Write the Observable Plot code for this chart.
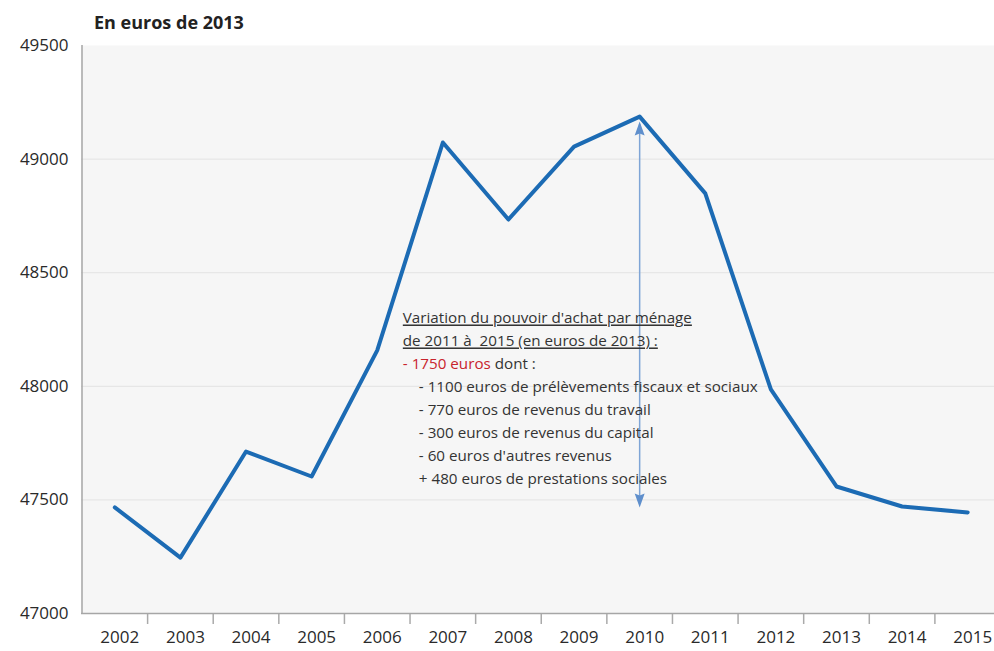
<!DOCTYPE html>
<html><head><meta charset="utf-8">
<script src="https://cdn.jsdelivr.net/npm/d3@7"></script>
<script src="https://cdn.jsdelivr.net/npm/@observablehq/plot@0.6"></script>
<style>
body{margin:0;background:#fff;font-family:"Open Sans",sans-serif;}
#title{height:34px;line-height:44px;padding-left:94px;font-weight:700;font-size:18px;color:#222;}
#chart svg{display:block;overflow:visible;}
</style></head><body>
<div id="title">En euros de 2013</div>
<div id="chart"></div>
<script>
const years = [2002,2003,2004,2005,2006,2007,2008,2009,2010,2011,2012,2013,2014,2015];
const values = [47467,47246,47713,47603,48158,49073,48734,49055,49187,48849,47986,47559,47471,47445];
const yTicks = [47000,47500,48000,48500,49000,49500];
const yearBoundaries = [2002.5,2003.5,2004.5,2005.5,2006.5,2007.5,2008.5,2009.5,2010.5,2011.5,2012.5,2013.5,2014.5];
const annotationHeader = ["Variation du pouvoir d'achat par ménage", "de 2011 à  2015 (en euros de 2013) :"];
const annotationTotal = ["- 1750 euros", " dont :"];
const annotationDetails = [
  "- 1100 euros de prélèvements fiscaux et sociaux",
  "- 770 euros de revenus du travail",
  "- 300 euros de revenus du capital",
  "- 60 euros d'autres revenus",
  "+ 480 euros de prestations sociales"
];
const arrowYear = 2010, arrowFromYear = 2010, arrowToYear = 2015;
const annX = 2006.39, annY = 48298, annStep = 101.2;

const data = years.map((year, i) => ({year, value: values[i]}));
const valueOf = y => values[years.indexOf(y)];
const rows = [
  ...annotationHeader.map(t => ({text: t, kind: "header"})),
  {text: annotationTotal.join(""), kind: "total"},
  ...annotationDetails.map(t => ({text: t, kind: "detail"}))
].map((d, i) => ({...d, row: i}));

// elongated arrowhead symbol: tip at the origin, pointing up
const arrowHead = {
  draw(context) {
    context.moveTo(0, 0);
    context.lineTo(5, 14);
    context.lineTo(0, 12);
    context.lineTo(-5, 14);
    context.closePath();
  }
};

const plot = Plot.plot({
  width: 994, height: 617,
  marginTop: 11, marginBottom: 38, marginLeft: 81, marginRight: 0,
  style: {fontFamily: "Open Sans", fontSize: "17px", color: "#333", background: "transparent", overflow: "visible"},
  x: {type: "linear", domain: [2001.5, 2015.5], range: [81.5, 1000]},
  y: {domain: [47000, 49500]},
  marks: [
    Plot.frame({fill: "#f6f6f6", stroke: null}),
    Plot.gridY(yTicks.slice(1, -1), {stroke: "#e3e3e3", strokeOpacity: 1}),
    Plot.axisY({ticks: yTicks, tickSize: 0, tickPadding: 13, fontSize: 17, tickFormat: d => String(d), fill: "#2a2a2a", label: null}),
    Plot.axisX({ticks: years, tickSize: 0, tickPadding: 17, fontSize: 17, tickFormat: d => String(d), dx: 5, fill: "#2a2a2a", label: null}),
    Plot.axisX({ticks: yearBoundaries, tickSize: 11, tickFormat: () => "", stroke: "#aaa", strokeWidth: 1.5, label: null}),
    Plot.ruleX([2001.5], {stroke: "#a6a6a6", strokeWidth: 1.5}),
    Plot.ruleY([47000], {stroke: "#a6a6a6", strokeWidth: 1.5}),
    Plot.line(data, {x: "year", y: "value", stroke: "#1c6bb4", strokeWidth: 4}),
    Plot.ruleX([arrowYear], {y1: valueOf(arrowFromYear), y2: valueOf(arrowToYear), insetTop: 8, insetBottom: 8, stroke: "#7fa5d6", strokeWidth: 1.5}),
    Plot.dot([{year: arrowYear, value: valueOf(arrowFromYear)}], {x: "year", y: "value", symbol: arrowHead, dy: 5, fill: "#5f8fcc", stroke: null}),
    Plot.dot([{year: arrowYear, value: valueOf(arrowToYear)}], {x: "year", y: "value", symbol: arrowHead, dy: -5, rotate: 180, fill: "#5f8fcc", stroke: null}),
    Plot.text(rows.filter(d => d.kind !== "detail"), {x: () => annX, y: d => annY - d.row * annStep, text: "text", textAnchor: "start", fontSize: 15.2, fill: "#333"}),
    Plot.text(rows.filter(d => d.kind === "detail"), {x: () => annX, y: d => annY - d.row * annStep, text: "text", textAnchor: "start", dx: 16, fontSize: 15.2, fill: "#333"})
  ]
});
document.getElementById("chart").appendChild(plot);

// styling of annotation parts: underlined header, red total
d3.select(plot).selectAll("text").each(function() {
  const el = d3.select(this);
  const t = el.text();
  if (annotationHeader.includes(t)) {
    el.style("text-decoration", "underline").style("white-space", "pre");
  } else if (t === annotationTotal.join("")) {
    el.text("");
    el.append("tspan").attr("fill", "#c8232c").text(annotationTotal[0]);
    el.append("tspan").style("white-space", "pre").text(annotationTotal[1]);
  }
});
</script>
</body></html>
